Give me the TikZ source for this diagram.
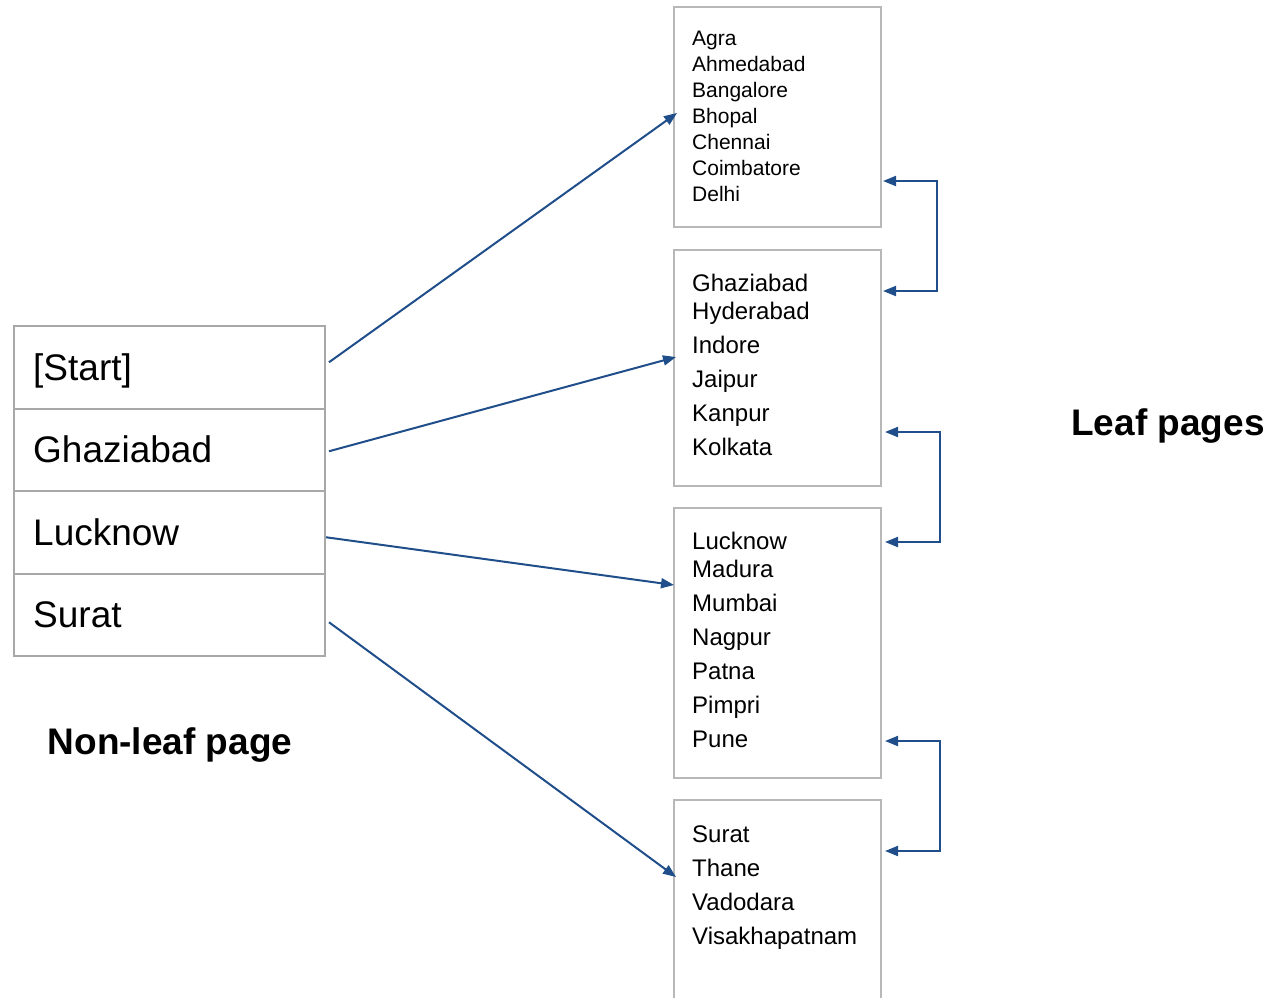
\documentclass[tikz,border=0pt]{standalone}
\usepackage{fontspec}
\setmainfont{Liberation Sans}
\usetikzlibrary{arrows.meta}
\definecolor{linkblue}{HTML}{1F4E8A}
\definecolor{leftgray}{HTML}{A8A8A8}
\definecolor{rightgray}{HTML}{B8B8B8}
\tikzset{
  rowbox/.style={draw=leftgray, line width=2pt, minimum width=311pt, minimum height=82.5pt, anchor=north west, inner sep=0pt, outer sep=0pt},
  pagebox/.style={draw=rightgray, line width=2pt, minimum width=207pt, anchor=north west, inner sep=0pt, outer sep=0pt},
  bigtext/.style={anchor=base west, inner sep=0pt, font=\fontsize{37}{44}\selectfont},
  smalltext/.style={anchor=base west, inner sep=0pt, font=\fontsize{21}{25}\selectfont},
  midtext/.style={anchor=base west, inner sep=0pt, font=\fontsize{24}{28}\selectfont},
  title/.style={inner sep=0pt, font=\bfseries\fontsize{37}{44}\selectfont},
  link/.style={draw=linkblue, line width=2pt, -{Triangle[length=13pt,width=10pt]}},
  twolink/.style={draw=linkblue, line width=2pt, {Triangle[length=13pt,width=10pt]}-{Triangle[length=13pt,width=10pt]}}
}
\begin{document}
\begin{tikzpicture}[x=1pt,y=-1pt]
\useasboundingbox (0,0) rectangle (1276,997);
% non-leaf page rows
\node[rowbox] (r1) at (14,326) {};
\node[rowbox] (r2) at (14,408.5) {};
\node[rowbox] (r3) at (14,491) {};
\node[rowbox] (r4) at (14,573.5) {};
\node[bigtext] (t1) at (33,380) {[Start]};
\node[bigtext] (t2) at (33,462) {Ghaziabad};
\node[bigtext] (t3) at (33,545) {Lucknow};
\node[bigtext] (t4) at (33,627) {Surat};
% leaf pages
\node[pagebox, minimum height=220pt] (b1) at (674,7) {};
\node[pagebox, minimum height=236pt] (b2) at (674,250) {};
\node[pagebox, minimum height=270pt] (b3) at (674,508) {};
\node[pagebox, draw=none, minimum height=200pt] (b4) at (674,800) {};
\draw[draw=rightgray, line width=2pt] (b4.south west) -- (b4.north west) -- (b4.north east) -- (b4.south east);
% leaf page texts
\node[smalltext] (l11) at (692,45) {Agra};
\node[smalltext] (l12) at (692,71) {Ahmedabad};
\node[smalltext] (l13) at (692,97) {Bangalore};
\node[smalltext] (l14) at (692,123) {Bhopal};
\node[smalltext] (l15) at (692,149) {Chennai};
\node[smalltext] (l16) at (692,175) {Coimbatore};
\node[smalltext] (l17) at (692,201) {Delhi};
\node[midtext] (l21) at (692,291) {Ghaziabad};
\node[midtext] (l22) at (692,319) {Hyderabad};
\node[midtext] (l23) at (692,353) {Indore};
\node[midtext] (l24) at (692,387) {Jaipur};
\node[midtext] (l25) at (692,421) {Kanpur};
\node[midtext] (l26) at (692,455) {Kolkata};
\node[midtext] (l31) at (692,549) {Lucknow};
\node[midtext] (l32) at (692,577) {Madura};
\node[midtext] (l33) at (692,611) {Mumbai};
\node[midtext] (l34) at (692,645) {Nagpur};
\node[midtext] (l35) at (692,679) {Patna};
\node[midtext] (l36) at (692,713) {Pimpri};
\node[midtext] (l37) at (692,747) {Pune};
\node[midtext] (l41) at (692,842) {Surat};
\node[midtext] (l42) at (692,876) {Thane};
\node[midtext] (l43) at (692,910) {Vadodara};
\node[midtext] (l44) at (692,944) {Visakhapatnam};
% titles
\node[title] (nl) at (170,745) {Non-leaf page};
\node[title] (lp) at (1168,426) {Leaf pages};
% pointers from non-leaf to leaf pages
\draw[link] ([shift={(4,-5)}]r1.east) -- ([shift={(3,-4)}]b1.west);
\draw[link] ([shift={(4,1.5)}]r2.east) -- ([shift={(2,-11)}]b2.west);
\draw[link] ([shift={(1,5)}]r3.east) -- ([shift={(0,-58)}]b3.west);
\draw[link] ([shift={(4,7.5)}]r4.east) -- ([shift={(2,77)}]b4.north west);
% sibling links
\coordinate (ka1) at (937,181);
\coordinate (ka2) at (937,291);
\coordinate (kb1) at (940,432);
\coordinate (kb2) at (940,542);
\coordinate (kc1) at (940,741);
\coordinate (kc2) at (940,851);
\draw[twolink] ([xshift=2pt]b1.east |- ka1) -- (ka1) -- (ka2) -- ([xshift=2pt]b2.east |- ka2);
\draw[twolink] ([xshift=4pt]b2.east |- kb1) -- (kb1) -- (kb2) -- ([xshift=4pt]b3.east |- kb2);
\draw[twolink] ([xshift=4pt]b3.east |- kc1) -- (kc1) -- (kc2) -- ([xshift=4pt]b4.east |- kc2);
\end{tikzpicture}
\end{document}
